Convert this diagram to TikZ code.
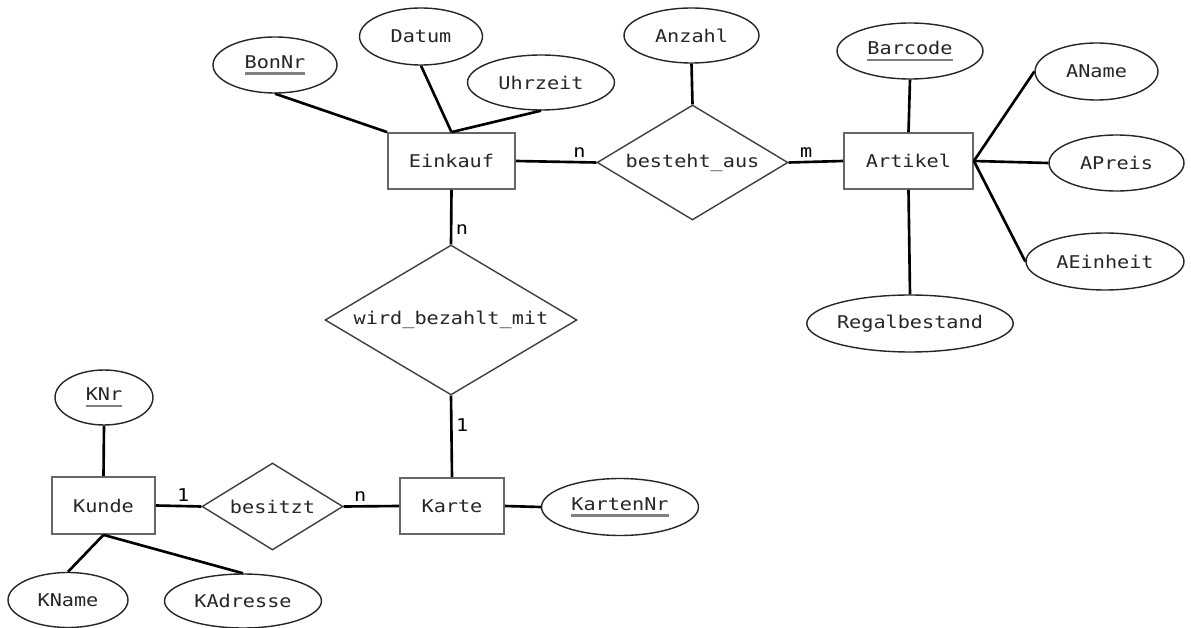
\documentclass[tikz,border=0pt]{standalone}
\usepackage{fontspec}
\setmonofont[FakeStretch=1.15]{DejaVu Sans Mono}
\usetikzlibrary{shapes.geometric}
% underlined key attribute
\newcommand{\keyattr}[1]{\setbox0\hbox{#1}\rlap{\textcolor{black!50}{\rule[-3.6pt]{\wd0}{1.2pt}}}\box0}
\begin{document}
\begin{tikzpicture}[x=0.02cm,y=-0.02cm,
  font=\ttfamily\fontsize{10}{12}\selectfont, text=black!85,
  entity/.style 2 args={rectangle,draw=black!60,line width=1pt,inner sep=0pt,minimum width=#1,minimum height=#2},
  attr/.style 2 args={ellipse,draw=black!85,line width=0.8pt,inner sep=0pt,minimum width=#1,minimum height=#2},
  rel/.style 2 args={diamond,draw=black!75,line width=0.8pt,inner sep=0pt,shape aspect=1.66,minimum width=#1,minimum height=#2},
  link/.style={line width=1.5pt,black},
  card/.style={inner sep=2pt,text=black}]
\useasboundingbox[fill=white] (0,0) rectangle (1191,628);
% entities
\node[entity={2.54cm}{1.12cm}] (Einkauf) at (451.5,161) {Einkauf};
\node[entity={2.58cm}{1.12cm}] (Artikel) at (908.5,161) {Artikel};
\node[entity={2.08cm}{1.12cm}] (Karte) at (452,506) {Karte};
\node[entity={2.06cm}{1.14cm}] (Kunde) at (103.5,505.5) {Kunde};
% relationships
\node[rel={3.82cm}{2.30cm}] (besteht) at (692.5,162.5) {besteht\_aus};
\node[rel={5.04cm}{3.00cm}] (wird) at (451,320) {wird\_bezahlt\_mit};
\node[rel={2.82cm}{1.74cm}] (besitzt) at (272.5,506.5) {besitzt};
% attributes
\node[attr={2.48cm}{1.12cm}] (BonNr) at (275,65) {\keyattr{BonNr}};
\node[attr={2.46cm}{1.14cm}] (Datum) at (421,36.5) {Datum};
\node[attr={2.94cm}{1.10cm}] (Uhrzeit) at (541,82.5) {Uhrzeit};
\node[attr={2.70cm}{1.10cm}] (Anzahl) at (691.5,35.5) {Anzahl};
\node[attr={2.92cm}{1.12cm}] (Barcode) at (910,51) {\keyattr{Barcode}};
\node[attr={2.46cm}{1.14cm}] (AName) at (1096.5,71.5) {AName};
\node[attr={2.70cm}{1.12cm}] (APreis) at (1116.5,163) {APreis};
\node[attr={3.16cm}{1.14cm}] (AEinheit) at (1105,261.5) {AEinheit};
\node[attr={4.12cm}{1.14cm}] (Regal) at (910,323.5) {Regalbestand};
\node[attr={3.14cm}{1.14cm}] (KartenNr) at (620,507) {\keyattr{KartenNr}};
\node[attr={1.96cm}{1.10cm}] (KNr) at (104,397.5) {\keyattr{KNr}};
\node[attr={2.40cm}{1.10cm}] (KName) at (68,600) {KName};
\node[attr={3.14cm}{1.08cm}] (KAdresse) at (243,601) {KAdresse};
% relationship lines
\draw[link] (Einkauf.east) to node[card,above,pos=0.79] {n} (besteht.west);
\draw[link] (besteht.east) to node[card,above,pos=0.32] {m} (Artikel.west);
\draw[link] (Einkauf.south) to node[card,right,pos=0.73] {n} (wird.north);
\draw[link] (wird.south) to node[card,right,pos=0.36] {1} (Karte.north);
\draw[link] (Kunde.east) to node[card,above,pos=0.6] {1} (besitzt.west);
\draw[link] (besitzt.east) to node[card,above,pos=0.3] {n} (Karte.west);
% attribute lines
\draw[link] (BonNr.south) -- (Einkauf.north west);
\draw[link] (Datum.south) -- (Einkauf.north);
\draw[link] (Uhrzeit.south) -- (Einkauf.north);
\draw[link] (Anzahl.south) -- (besteht.north);
\draw[link] (Barcode.south) -- (Artikel.north);
\draw[link] (Artikel.east) -- (AName.west);
\draw[link] (Artikel.east) -- (APreis.west);
\draw[link] (Artikel.east) -- (AEinheit.west);
\draw[link] (Artikel.south) -- (Regal.north);
\draw[link] (Karte.east) -- (KartenNr.west);
\draw[link] (KNr.south) -- (Kunde.north);
\draw[link] (Kunde.south) -- (KName.north);
\draw[link] (Kunde.south) -- (KAdresse.north);
\end{tikzpicture}
\end{document}
